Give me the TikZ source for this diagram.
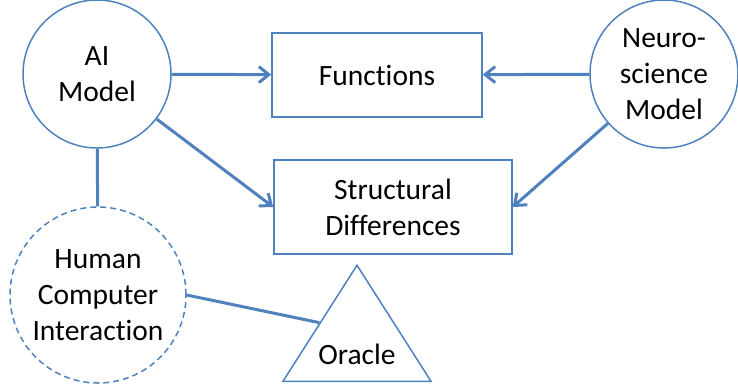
\documentclass[tikz,border=0pt]{standalone}
\usepackage{fontspec}
\setmainfont{Carlito}[Ligatures=NoCommon]
\usetikzlibrary{arrows.meta,shapes.geometric}
\definecolor{officeblue}{HTML}{4F81BD}
\begin{document}
\begin{tikzpicture}[x=0.5pt,y=-0.5pt,
  font=\fontsize{14.75}{18}\selectfont,
  circ/.style={draw=officeblue, line width=0.75pt, circle, align=center, inner sep=0pt},
  box/.style={draw=officeblue, line width=0.75pt, rectangle, align=center},
  arr/.style={draw=officeblue, line width=1.5pt, -{Straight Barb[length=5pt,width=8pt]}},
  link/.style={draw=officeblue, line width=1.5pt}]
  \useasboundingbox (0,0) rectangle (738,387);

  % Models
  \node[circ, minimum size=74pt] (ai) at (97,74) {AI\\Model};
  \node[circ, minimum size=74pt] (neuro) at (664,74) {Neuro-\\science\\Model};
  \node[circ, dash pattern=on 3pt off 2pt, minimum size=88pt] (hci) at (98,295) {Human\\Computer\\Interaction};

  % Comparison boxes
  \node[box, minimum width=105pt, minimum height=42pt] (fun) at (377,75) {Functions};
  \node[box, minimum width=119pt, minimum height=47pt] (struct) at (393,207) {Structural\\Differences};

  % Oracle
  \node[draw=officeblue, line width=0.75pt, isosceles triangle, shape border rotate=90,
    isosceles triangle stretches, minimum width=74pt, minimum height=58pt,
    inner sep=0pt, text depth=2.5pt, text height=8pt, anchor=lower side] (oracle) at (357,382) {Oracle};

  % Connections
  \draw[arr] (ai) -- (fun);
  \draw[arr] (neuro) -- (fun);
  \draw[arr] (ai) -- (struct.west);
  \draw[arr] (neuro) -- (struct.east);
  \draw[link] (ai) -- (hci);
  \draw[link] (hci.east) -- (oracle.left side);
\end{tikzpicture}
\end{document}
